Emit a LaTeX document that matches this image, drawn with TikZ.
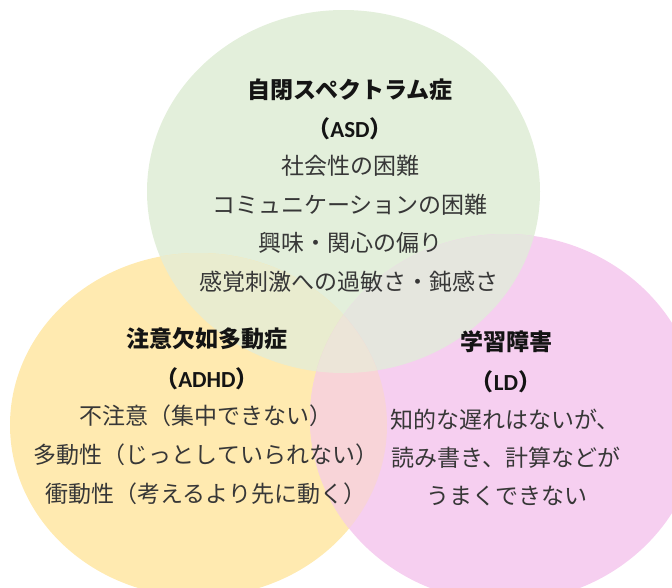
\documentclass[tikz,border=0pt]{standalone}
\usepackage{fontspec}
\setmainfont{Carlito}
\newfontfamily\jp{Noto Sans CJK JP}
\definecolor{cG}{RGB}{227,239,219}
\definecolor{cY}{RGB}{255,234,176}
\definecolor{cP}{RGB}{246,207,240}
\definecolor{cGY}{RGB}{233,236,207}
\definecolor{cGP}{RGB}{229,230,222}
\definecolor{cYP}{RGB}{248,212,216}
\definecolor{cGYP}{RGB}{236,229,216}
\definecolor{titletext}{RGB}{20,20,20}
\definecolor{bodytext}{RGB}{55,55,55}
\newcommand\pathG{(343.5,191.5) ellipse [x radius=196.5pt, y radius=181.5pt]}
\newcommand\pathY{(198.5,425) ellipse [x radius=188.5pt, y radius=172pt]}
\newcommand\pathP{(505,418) ellipse [x radius=195pt, y radius=184pt]}
\tikzset{
  ttl/.style={inner sep=0pt, text=titletext, font=\jp\bfseries\fontsize{23}{27}\selectfont},
  bdy/.style={inner sep=0pt, text=bodytext, font=\jp\fontsize{23}{27}\selectfont},
}
\begin{document}
\begin{tikzpicture}[x=1pt,y=-1pt]
\useasboundingbox (0,0) rectangle (672,587);
\fill[cG] \pathG;
\fill[cY] \pathY;
\fill[cP] \pathP;
\begin{scope}\clip \pathG; \fill[cGY] \pathY;\end{scope}
\begin{scope}\clip \pathG; \fill[cGP] \pathP;\end{scope}
\begin{scope}\clip \pathY; \fill[cYP] \pathP;\end{scope}
\begin{scope}\clip \pathG; \clip \pathY; \fill[cGYP] \pathP;\end{scope}
% ASD
\node[ttl] (a1) at (350,90) {自閉スペクトラム症};
\node[ttl] (a2) at (350,129) {（{\rmfamily\bfseries ASD}）};
\node[bdy] (a3) at (350,166) {社会性の困難};
\node[bdy] (a4) at (350,205) {コミュニケーションの困難};
\node[bdy] (a5) at (350,243) {興味・関心の偏り};
\node[bdy] (a6) at (349,282) {感覚刺激への過敏さ・鈍感さ};
% ADHD
\node[ttl] (b1) at (207,339) {注意欠如多動症};
\node[ttl] (b2) at (207,379) {（{\rmfamily\bfseries ADHD}）};
\node[bdy] (b3) at (206,416) {不注意（集中できない）};
\node[bdy] (b4) at (206,455) {多動性（じっとしていられない）};
\node[bdy] (b5) at (206,494) {衝動性（考えるより先に動く）};
% LD
\node[ttl] (c1) at (506,342) {学習障害};
\node[ttl] (c2) at (506,382) {（{\rmfamily\bfseries LD}）};
\node[bdy] (c3) at (505,420) {知的な遅れはないが、};
\node[bdy] (c4) at (506,458) {読み書き、計算などが};
\node[bdy] (c5) at (507,496) {うまくできない};
\end{tikzpicture}
\end{document}
